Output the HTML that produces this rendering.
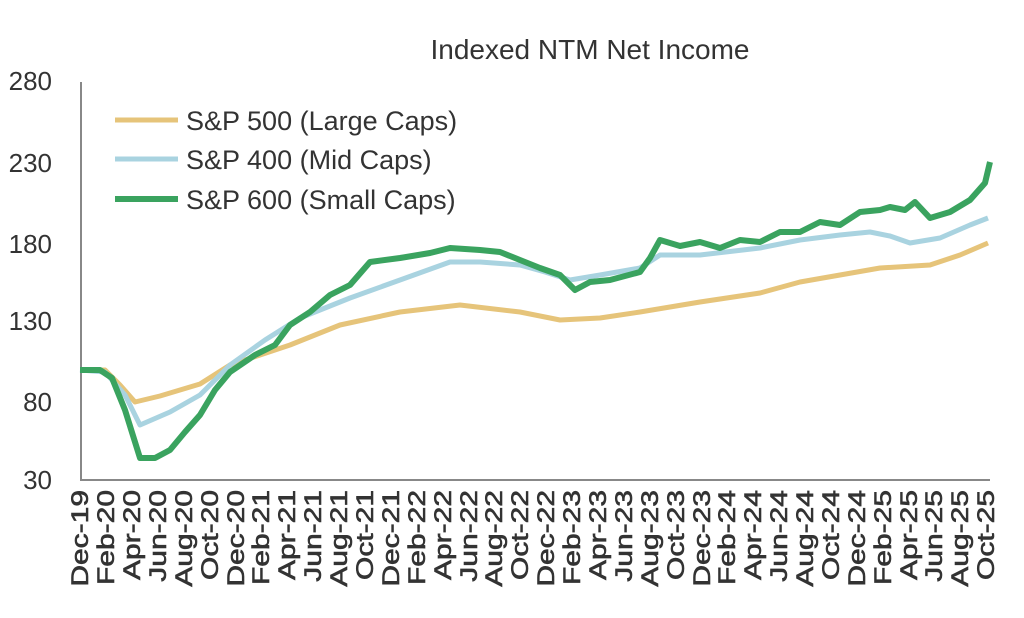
<!DOCTYPE html><html><head><style>body{margin:0;background:#fff}svg{font-family:"Liberation Sans",sans-serif}</style></head><body>
<svg width="1024" height="613" viewBox="0 0 1024 613">
<text x="590" y="59" font-size="28" text-anchor="middle" fill="#333">Indexed NTM Net Income</text>
<g font-size="26" fill="#333" text-anchor="end">
<text x="52" y="90">280</text><text x="52" y="172">230</text><text x="52" y="253">180</text><text x="52" y="330">130</text><text x="52" y="411">80</text><text x="52" y="489">30</text></g>
<path d="M81 82V480H990" fill="none" stroke="#888" stroke-width="2"/>
<polyline fill="none" stroke="#e6c47a" stroke-width="5" stroke-linejoin="round" points="80,370 105,370 120,385 135,402 160,396 200,384 230,365 260,355 290,345 340,325 400,312 460,305 520,312 560,320 600,318 640,312 700,302 760,293 800,282 840,275 880,268 930,265 960,255 988,243"/>
<polyline fill="none" stroke="#a9d3e0" stroke-width="5" stroke-linejoin="round" points="80,370 105,372 125,395 140,425 170,412 200,395 230,365 265,340 300,318 350,298 400,280 450,262 480,262 520,265 545,272 570,280 600,275 640,268 660,255 700,255 760,248 800,240 840,235 870,232 890,236 910,243 940,238 970,225 988,218"/>
<polyline fill="none" stroke="#3aa35f" stroke-width="6" stroke-linejoin="round" points="80,370 100,370 112,378 125,410 140,458 155,458 170,450 185,432 200,415 215,390 230,372 255,355 275,345 290,325 310,312 330,295 350,285 370,262 400,258 430,253 450,248 480,250 500,252 520,260 540,268 560,275 575,290 590,282 610,280 640,272 650,258 660,240 680,246 700,242 720,248 740,240 760,242 780,232 800,232 820,222 840,225 860,212 880,210 890,207 905,210 915,202 930,218 950,212 970,200 985,183 990,162"/>
<g font-size="27" fill="#333">
<line x1="115" y1="120" x2="178" y2="120" stroke="#e6c47a" stroke-width="5"/><text x="186" y="130">S&amp;P 500 (Large Caps)</text>
<line x1="115" y1="159" x2="178" y2="159" stroke="#a9d3e0" stroke-width="5"/><text x="186" y="169">S&amp;P 400 (Mid Caps)</text>
<line x1="115" y1="199" x2="178" y2="199" stroke="#3aa35f" stroke-width="6"/><text x="186" y="209">S&amp;P 600 (Small Caps)</text>
</g>
<g font-size="24" fill="#333" text-anchor="end" stroke="#333" stroke-width="0.6">
<text transform="translate(88,490) rotate(-90) scale(1.25,1)">Dec-19</text>
<text transform="translate(114,490) rotate(-90) scale(1.25,1)">Feb-20</text>
<text transform="translate(140,490) rotate(-90) scale(1.25,1)">Apr-20</text>
<text transform="translate(166,490) rotate(-90) scale(1.25,1)">Jun-20</text>
<text transform="translate(192,490) rotate(-90) scale(1.25,1)">Aug-20</text>
<text transform="translate(218,490) rotate(-90) scale(1.25,1)">Oct-20</text>
<text transform="translate(244,490) rotate(-90) scale(1.25,1)">Dec-20</text>
<text transform="translate(269,490) rotate(-90) scale(1.25,1)">Feb-21</text>
<text transform="translate(295,490) rotate(-90) scale(1.25,1)">Apr-21</text>
<text transform="translate(321,490) rotate(-90) scale(1.25,1)">Jun-21</text>
<text transform="translate(347,490) rotate(-90) scale(1.25,1)">Aug-21</text>
<text transform="translate(373,490) rotate(-90) scale(1.25,1)">Oct-21</text>
<text transform="translate(399,490) rotate(-90) scale(1.25,1)">Dec-21</text>
<text transform="translate(425,490) rotate(-90) scale(1.25,1)">Feb-22</text>
<text transform="translate(451,490) rotate(-90) scale(1.25,1)">Apr-22</text>
<text transform="translate(477,490) rotate(-90) scale(1.25,1)">Jun-22</text>
<text transform="translate(502,490) rotate(-90) scale(1.25,1)">Aug-22</text>
<text transform="translate(528,490) rotate(-90) scale(1.25,1)">Oct-22</text>
<text transform="translate(554,490) rotate(-90) scale(1.25,1)">Dec-22</text>
<text transform="translate(580,490) rotate(-90) scale(1.25,1)">Feb-23</text>
<text transform="translate(606,490) rotate(-90) scale(1.25,1)">Apr-23</text>
<text transform="translate(632,490) rotate(-90) scale(1.25,1)">Jun-23</text>
<text transform="translate(658,490) rotate(-90) scale(1.25,1)">Aug-23</text>
<text transform="translate(684,490) rotate(-90) scale(1.25,1)">Oct-23</text>
<text transform="translate(710,490) rotate(-90) scale(1.25,1)">Dec-23</text>
<text transform="translate(735,490) rotate(-90) scale(1.25,1)">Feb-24</text>
<text transform="translate(761,490) rotate(-90) scale(1.25,1)">Apr-24</text>
<text transform="translate(787,490) rotate(-90) scale(1.25,1)">Jun-24</text>
<text transform="translate(813,490) rotate(-90) scale(1.25,1)">Aug-24</text>
<text transform="translate(839,490) rotate(-90) scale(1.25,1)">Oct-24</text>
<text transform="translate(865,490) rotate(-90) scale(1.25,1)">Dec-24</text>
<text transform="translate(891,490) rotate(-90) scale(1.25,1)">Feb-25</text>
<text transform="translate(917,490) rotate(-90) scale(1.25,1)">Apr-25</text>
<text transform="translate(942,490) rotate(-90) scale(1.25,1)">Jun-25</text>
<text transform="translate(968,490) rotate(-90) scale(1.25,1)">Aug-25</text>
<text transform="translate(994,490) rotate(-90) scale(1.25,1)">Oct-25</text>
</g>
</svg></body></html>
